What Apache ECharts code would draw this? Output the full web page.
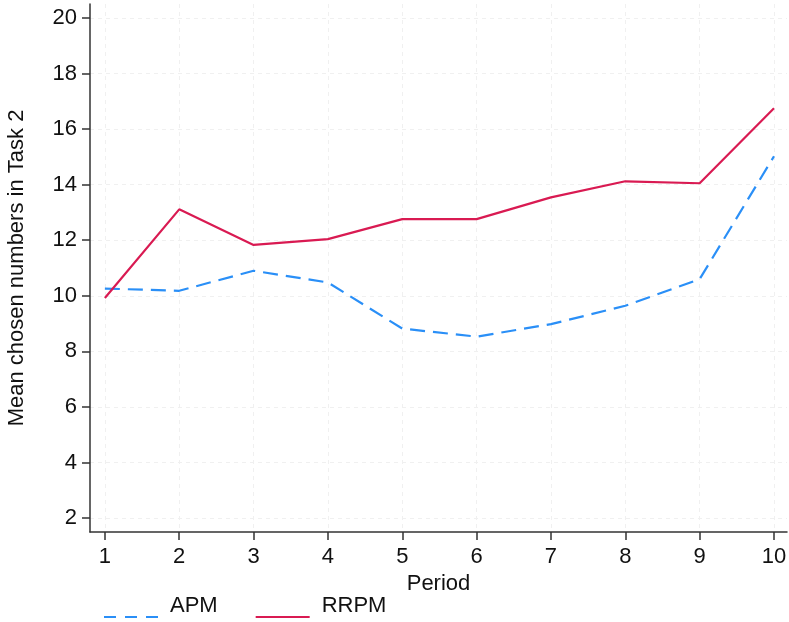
<!DOCTYPE html>
<html>
<head>
<meta charset="utf-8">
<script src="https://cdn.jsdelivr.net/npm/echarts@6/dist/echarts.min.js"></script>
<style>
  html, body { margin: 0; padding: 0; background: #fff; }
  #chart { width: 789px; height: 622px; }
</style>
</head>
<body>
<div id="chart"></div>
<script>
// values
const periods = [1, 2, 3, 4, 5, 6, 7, 8, 9, 10]
const apm = [10.26, 10.18, 10.9, 10.48, 8.82, 8.53, 8.98, 9.64, 10.6, 15.02]
const rrpm = [9.92, 13.11, 11.83, 12.04, 12.76, 12.76, 13.54, 14.12, 14.05, 16.75]
const yTicks = [2, 4, 6, 8, 10, 12, 14, 16, 18, 20]

const chart = echarts.init(document.getElementById('chart'))
const font = 'Liberation Sans'
const gridLine = { show: true, lineStyle: { color: '#f0f0f0', type: [4, 4], width: 1 } }

chart.setOption({
  animation: false,
  textStyle: { fontFamily: font },
  grid: { left: 90, right: 2, top: 4, bottom: 90, outerBoundsMode: 'none', containLabel: false },
  legend: {
    left: 103,
    top: 594,
    padding: 0,
    itemWidth: 54,
    itemHeight: 10,
    itemGap: 37,
    itemStyle: { opacity: 0 },
    // push the text up so the key line sits at its base
    formatter: name => name + '\n ',
    textStyle: { fontSize: 22, lineHeight: 23, color: '#111', fontFamily: font, padding: [0, 0, 0, 7] },
    data: [{ name: 'APM', lineStyle: { type: [12, 9] } }, 'RRPM']
  },
  xAxis: {
    type: 'value',
    min: 0.8,
    max: 10.175,
    name: 'Period',
    nameLocation: 'middle',
    nameGap: 38,
    nameTextStyle: { fontSize: 22, color: '#111' },
    axisLine: { onZero: false, lineStyle: { color: '#333', width: 1.5 } },
    axisTick: { customValues: periods, length: 8, lineStyle: { color: '#333', width: 1.5 } },
    axisLabel: { customValues: periods, fontSize: 22, color: '#111', margin: 14 },
    splitLine: gridLine
  },
  yAxis: {
    type: 'value',
    min: 1.5,
    max: 20.5,
    name: 'Mean chosen numbers in Task 2',
    nameLocation: 'middle',
    nameGap: 62,
    nameTextStyle: { fontSize: 22, color: '#111' },
    axisLine: { show: true, onZero: false, lineStyle: { color: '#333', width: 1.5 } },
    axisTick: { show: true, customValues: yTicks, length: 8, lineStyle: { color: '#333', width: 1.5 } },
    axisLabel: { customValues: yTicks, fontSize: 22, color: '#111', margin: 13 },
    splitLine: gridLine
  },
  series: [
    {
      name: 'APM',
      type: 'line',
      symbol: 'none',
      data: periods.map((p, i) => [p, apm[i]]),
      lineStyle: { color: '#2a8ff7', width: 2.2, type: [15, 8] },
      itemStyle: { color: '#2a8ff7' }
    },
    {
      name: 'RRPM',
      type: 'line',
      symbol: 'none',
      data: periods.map((p, i) => [p, rrpm[i]]),
      lineStyle: { color: '#d91a52', width: 2.2 },
      itemStyle: { color: '#d91a52' }
    }
  ]
})
</script>
</body>
</html>
